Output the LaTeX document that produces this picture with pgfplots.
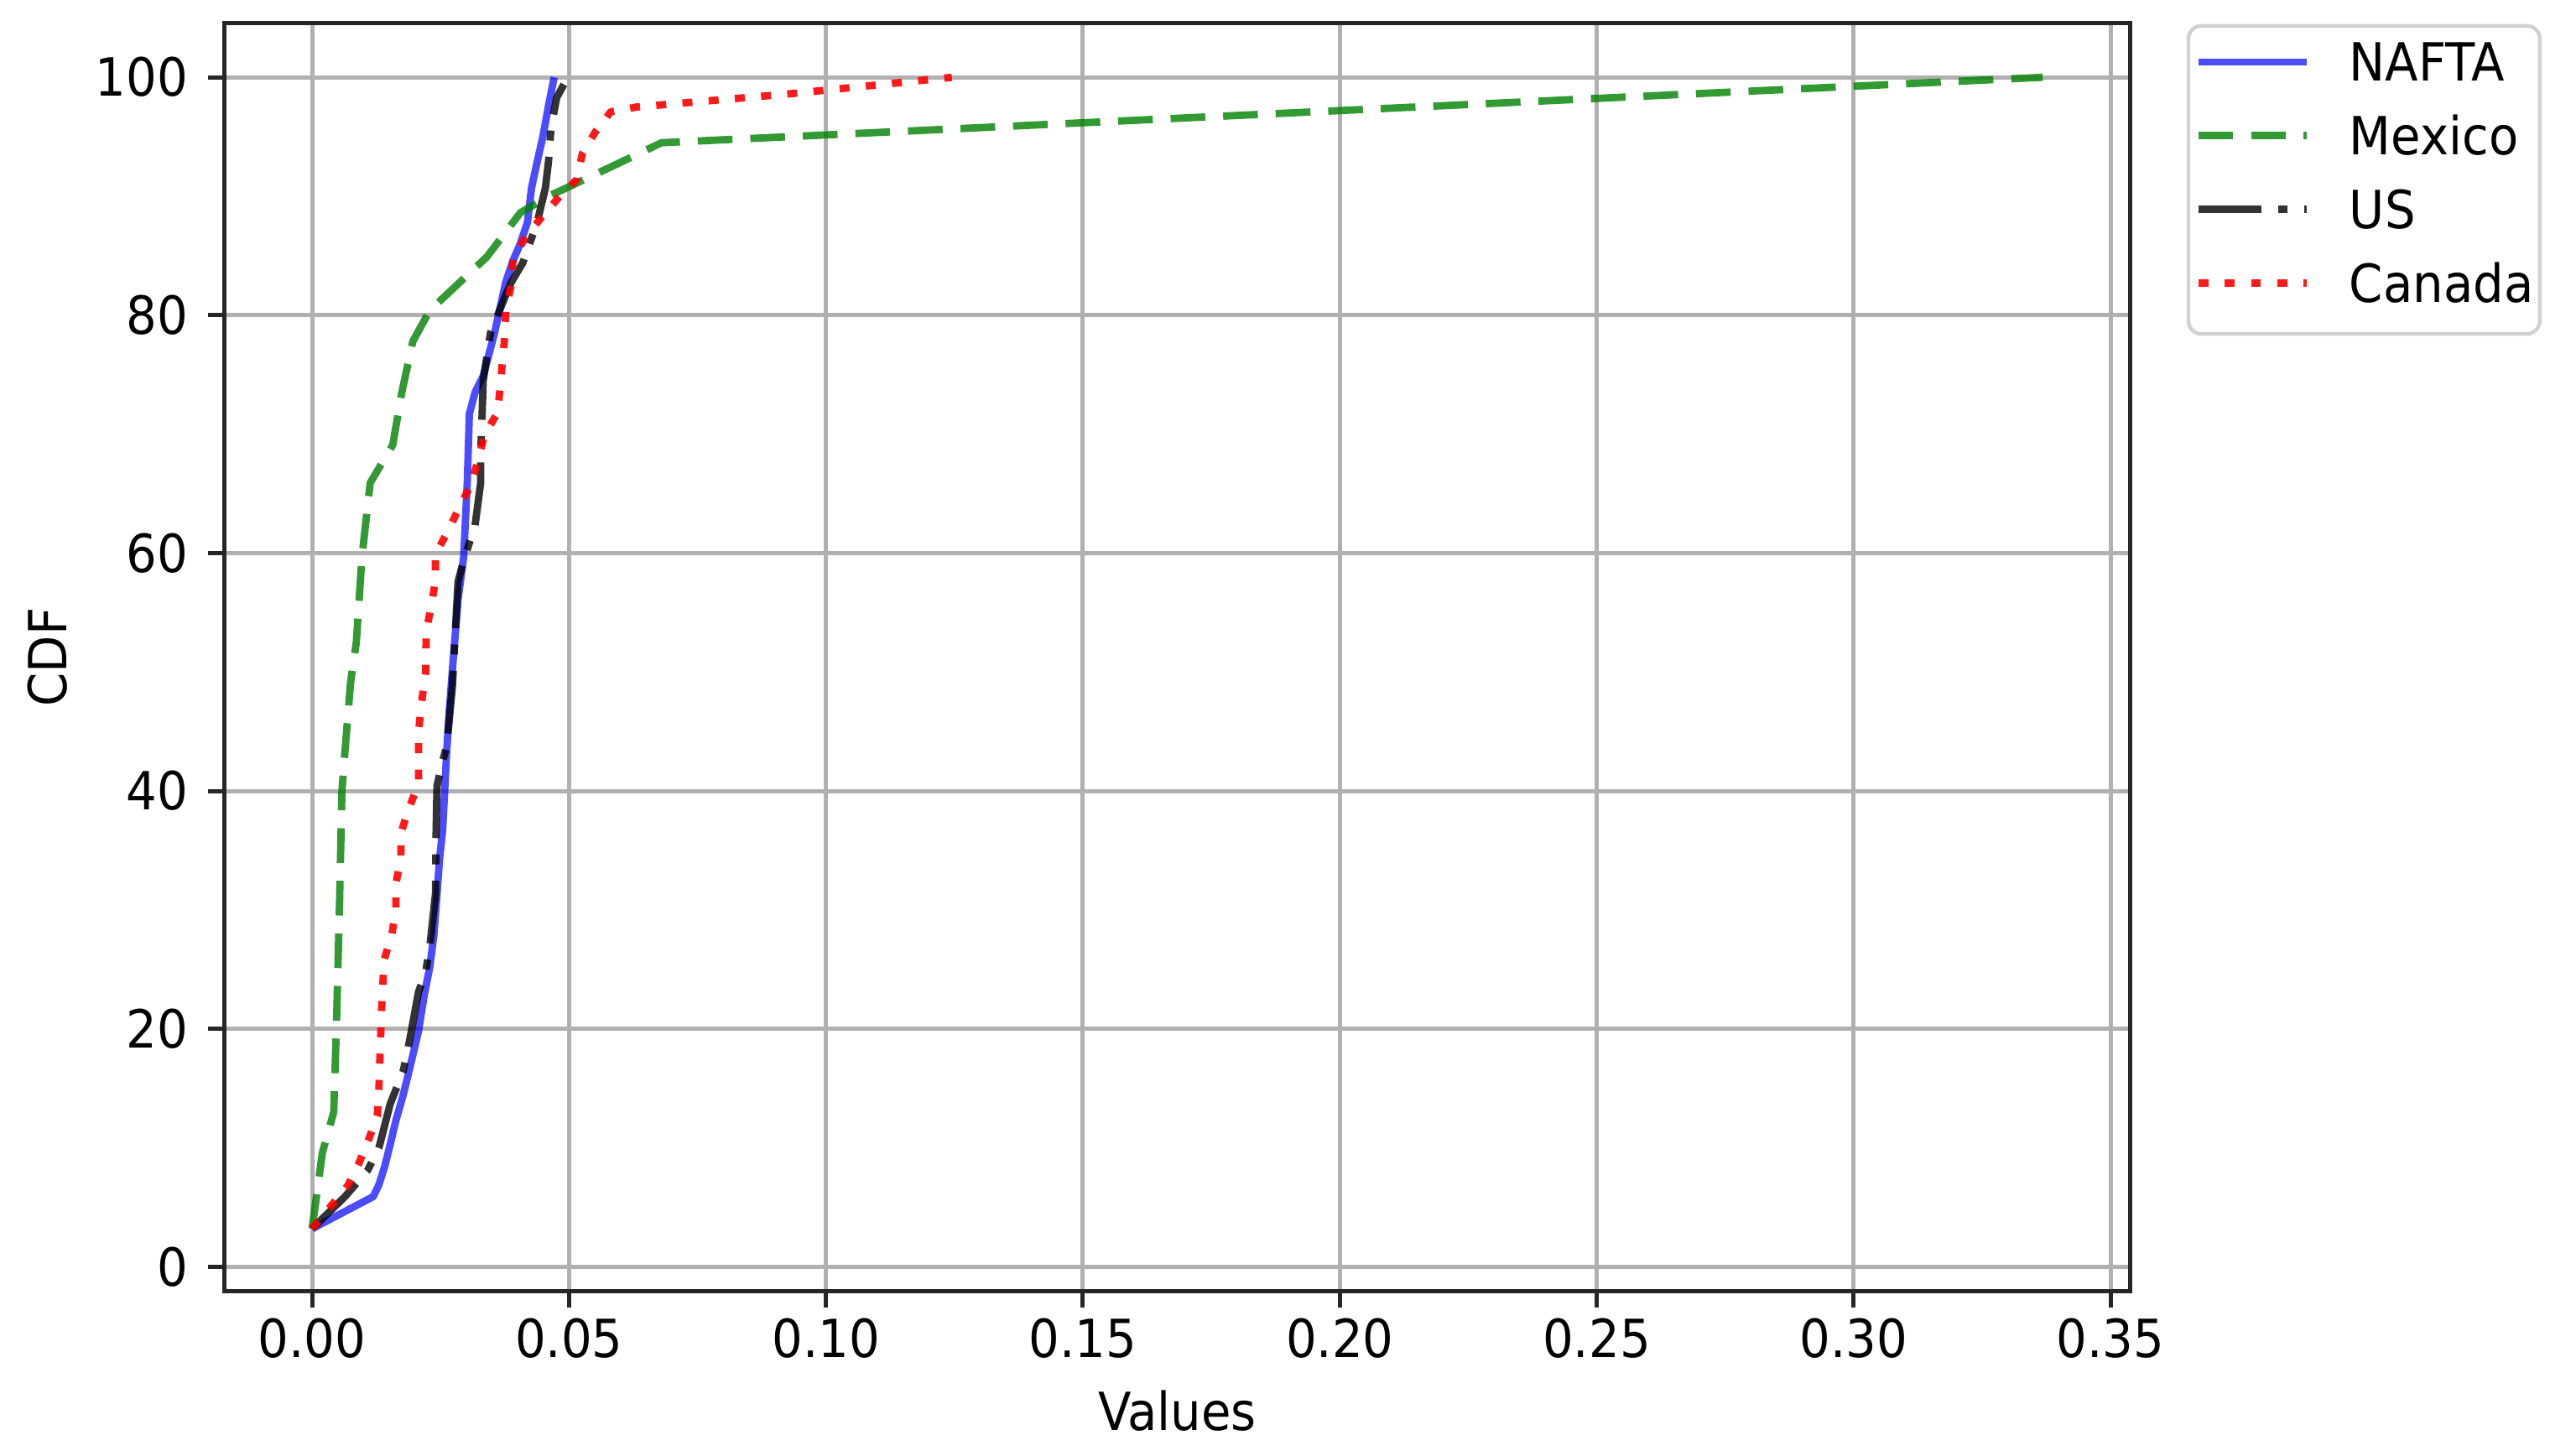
\documentclass[border=0pt]{standalone}
\usepackage{fontspec}
\setmainfont{DejaVu Sans}[FakeStretch=0.92]
\usepackage{pgfplots}
\pgfplotsset{compat=1.18}

\definecolor{cnafta}{RGB}{0,0,255}
\definecolor{cmexico}{RGB}{0,128,0}
\definecolor{cus}{RGB}{0,0,0}
\definecolor{ccanada}{RGB}{255,0,0}
\definecolor{gridgray}{RGB}{176,176,176}

\begin{document}
\begin{tikzpicture}
\begin{axis}[
    scale only axis,
    width=362.25pt, height=241.0pt,
    xmin=-0.0170, xmax=0.3538,
    ymin=-2.02, ymax=104.53,
    xtick={0,0.05,0.10,0.15,0.20,0.25,0.30,0.35},
    ytick={0,20,40,60,80,100},
    /pgf/number format/assume math mode=true,
    tick label style={font=\fontsize{10pt}{12pt}\selectfont, inner sep=0pt},
    xticklabel style={/pgf/number format/fixed, /pgf/number format/fixed zerofill,
        /pgf/number format/precision=2, anchor=base, yshift=-9.4pt},
    yticklabel style={anchor=east, xshift=-3.6pt},
    tick align=outside,
    tickpos=left,
    major tick length=3.2pt,
    every tick/.style={black!85, line width=0.8pt},
    axis line style={black!85, line width=0.8pt},
    grid=major,
    major grid style={gridgray, line width=0.8pt},
    xlabel={Values},
    ylabel={CDF},
    label style={font=\fontsize{10pt}{12pt}\selectfont, inner sep=0pt},
    xlabel style={at={(axis description cs:0.5,-0.1104)}, anchor=base},
    ylabel style={at={(axis description cs:-0.0828,0.5)}, anchor=base},
    legend style={
        at={(axis description cs:1.0297,0.9996)}, anchor=north west,
        draw=black!18, line width=0.7pt, rounded corners=2.5pt, fill=white,
        inner xsep=1.2pt, inner ysep=1.3pt, row sep=0pt,
        font=\fontsize{10pt}{12pt}\selectfont,
        nodes={inner sep=0pt, text height=9.25pt, text depth=4.75pt},
        /tikz/every odd column/.append style={column sep=7.4pt},
    },
    legend cell align=left,
    legend image code/.code={\draw[#1, line cap=butt] (0pt,1.4pt) -- (20.6pt,1.4pt);},
    every axis plot/.append style={line width=1.4pt, line join=round},
]

% NAFTA
\addplot[cnafta, draw opacity=0.7] coordinates {
(0,3.2) (0.0119,5.9) (0.0130,6.9) (0.0141,8.4) (0.0152,10.3) (0.0163,12.3)
(0.0177,14.4) (0.0190,16.7) (0.0207,19.8) (0.0218,22.8) (0.0229,25.2)
(0.0237,27.9) (0.0243,31.3) (0.0248,34.3) (0.0254,36.7) (0.0262,43.4)
(0.0267,46.8) (0.0273,50.2) (0.0284,56.1) (0.0295,59.7) (0.0302,66.0)
(0.0306,71.7) (0.0317,73.5) (0.0333,74.9) (0.0355,78.5) (0.0377,82.8)
(0.0391,84.6) (0.0405,86.0) (0.0419,87.8) (0.0427,90.7) (0.0438,92.9)
(0.0449,95.0) (0.0460,97.6) (0.0471,100)
};
\addlegendentry{NAFTA}

% Mexico
\addplot[cmexico, draw opacity=0.8, dash pattern=on 6.6pt off 3.4pt] coordinates {
(0,3.2) (0.0020,9.6) (0.0042,13.0) (0.0047,19.8) (0.0053,29.9) (0.0058,40.0)
(0.0064,43.4) (0.0075,49.2) (0.0086,52.5) (0.0097,59.7) (0.0113,65.9)
(0.0157,69.1) (0.0174,73.4) (0.0196,77.8) (0.0229,80.4) (0.0340,84.9)
(0.0405,88.6) (0.0460,90.0) (0.0500,90.8) (0.0588,92.6) (0.0680,94.5)
(0.3368,100)
};
\addlegendentry{Mexico}

% US
\addplot[cus, draw opacity=0.8, dash pattern=on 12pt off 3.1pt on 1.9pt off 3.1pt] coordinates {
(0,3.2) (0.0064,5.9) (0.0108,8.1) (0.0130,10.0) (0.0152,13.7) (0.0177,16.4)
(0.0190,19.1) (0.0207,23.1) (0.0221,24.8) (0.0229,26.9) (0.0240,31.3)
(0.0241,36.0) (0.0243,40.4) (0.0251,42.0) (0.0262,43.8) (0.0273,48.8)
(0.0284,57.6) (0.0295,59.4) (0.0317,62.3) (0.0328,65.9) (0.0328,68.1)
(0.0333,74.5) (0.0347,78.5) (0.0377,81.7) (0.0388,82.8) (0.0410,84.4)
(0.0438,87.8) (0.0454,90.7) (0.0460,92.9) (0.0465,95.8) (0.0476,98.3)
(0.0490,99.4)
};
\addlegendentry{US}

% Canada
\addplot[ccanada, draw opacity=0.9, dash pattern=on 1.9pt off 3.1pt] coordinates {
(0,3.2) (0.0069,6.8) (0.0091,8.7) (0.0110,10.7) (0.0127,12.7) (0.0130,15.0)
(0.0135,21.5) (0.0140,25.8) (0.0155,27.9) (0.0163,30.0) (0.0163,32.2)
(0.0173,34.4) (0.0173,36.5) (0.0188,38.5) (0.0207,40.6) (0.0207,44.9)
(0.0212,47.1) (0.0221,50.0) (0.0222,53.4) (0.0232,55.6) (0.0240,57.7)
(0.0240,59.9) (0.0265,61.9) (0.0287,63.9) (0.0311,65.9) (0.0336,70.0)
(0.0361,71.8) (0.0366,74.0) (0.0375,78.3) (0.0377,80.5) (0.0388,82.6)
(0.0391,84.8) (0.0416,86.6) (0.0446,88.2) (0.0482,90.0) (0.0515,91.4)
(0.0526,93.6) (0.0551,95.4) (0.0581,97.1) (0.0631,97.5) (0.0927,98.6)
(0.1245,100)
};
\addlegendentry{Canada\hspace{3pt}}

\end{axis}
\pgfresetboundingbox
\useasboundingbox (-42.74pt,-31.26pt) rectangle (447.05pt,245.45pt);
\end{tikzpicture}
\end{document}
